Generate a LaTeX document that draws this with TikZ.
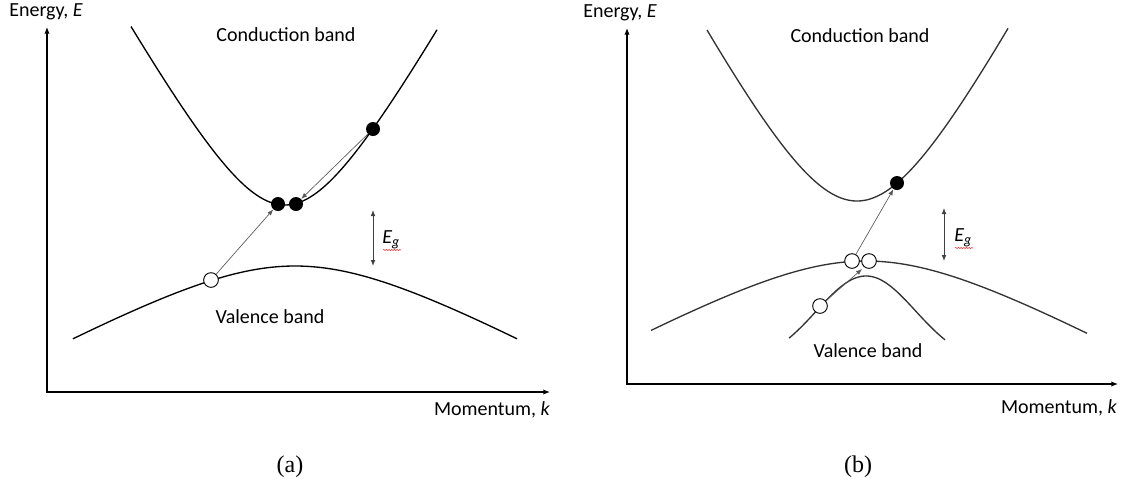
\documentclass[tikz,border=0pt]{standalone}
\usepackage{fontspec}
\setmainfont{Carlito}
\newfontfamily\capfont{Liberation Serif}
\usetikzlibrary{arrows.meta,decorations.pathmorphing}
\begin{document}
\begin{tikzpicture}[x=0.75pt,y=-0.75pt,
  lbl/.style={font=\fontsize{15}{17}\selectfont, inner sep=0pt},
  captext/.style={font=\capfont\fontsize{18}{20}\selectfont, inner sep=0pt},
  axisline/.style={line width=0.9pt},
  band/.style={line width=1pt, draw=black},
  bandb/.style={line width=1pt, draw=black!80},
  elec/.style={circle, fill=black, minimum size=10.5pt, inner sep=0pt},
  hole/.style={circle, draw=black, fill=white, line width=0.7pt, minimum size=11pt, inner sep=0pt},
  trans/.style={draw=black!65, line width=0.5pt, -{Latex[length=4.5pt,width=3.5pt]}},
  gaparrow/.style={line width=0.6pt, draw=black!75, {Latex[length=4.5pt,width=3.5pt]}-{Latex[length=4.5pt,width=3.5pt]}},
  squig/.style={draw=red!80, line width=0.4pt, decorate, decoration={snake, amplitude=0.5pt, segment length=2pt}}
]
\useasboundingbox (0,0) rectangle (1126,501);

% ---------------- panel (a) ----------------
\coordinate (ya) at (47,27);
\coordinate (oa) at (47,392);
\coordinate (xa) at (550,392);
\draw[axisline, {Latex[length=5pt,width=4pt]}-{Latex[length=5pt,width=4pt]}] (ya) -- (oa) -- (xa);

\draw[band] plot[domain=131:437, samples=120, smooth] (\x, {205 - 126*(sqrt(1+((\x-285)/70)^2)-1)});
\draw[band] plot[domain=73:517, samples=120, smooth] (\x, {266 + 66*(sqrt(1+((\x-295)/120)^2)-1)});

\node[elec] (e1a) at (278,204) {};
\node[elec] (e2a) at (296,204) {};
\node[elec] (e3a) at (373,129) {};
\node[hole] (h1a) at (211,280) {};

\draw[trans] (h1a) -- (e1a);
\draw[trans] (e3a) -- (e2a);

\coordinate (gta) at (373,210);
\coordinate (gba) at (373,266);
\draw[gaparrow] (gta) -- (gba);
\node[lbl, anchor=west] (ega) at (382,240) {\textit{E}\textsubscript{\textit{g}}};
\coordinate (sqa1) at (383,250);
\coordinate (sqa2) at (401,250);
\draw[squig] (sqa1) -- (sqa2);

\node[lbl] (ea) at (46,12) {Energy, \textit{E}};
\node[lbl] (ka) at (492,410) {Momentum, \textit{k}};
\node[lbl] (cba) at (286,35) {Conduction band};
\node[lbl] (vba) at (270,317) {Valence band};
\node[captext] (capa) at (290,467) {(a)};

% ---------------- panel (b) ----------------
\coordinate (yb) at (627,28);
\coordinate (ob) at (627,384);
\coordinate (xb) at (1118,384);
\draw[axisline, {Latex[length=5pt,width=4pt]}-{Latex[length=5pt,width=4pt]}] (yb) -- (ob) -- (xb);

\draw[bandb] plot[domain=707:1008, samples=120, smooth] (\x, {201 - 152*(sqrt(1+((\x-857)/80)^2)-1)});
\draw[bandb] plot[domain=651:1087, samples=120, smooth] (\x, {261 + 66*(sqrt(1+((\x-866)/120)^2)-1)});
\draw[bandb] plot[domain=789:945, samples=100, smooth] (\x, {276 + 88.6*(1-exp(-((\x-866)/70)^2))});

\node[elec] (e1b) at (897,183) {};
\node[hole] (h1b) at (852,261) {};
\node[hole] (h2b) at (869,261) {};
\node[hole] (h3b) at (820,306) {};
\coordinate (tipb) at (862,269);

\draw[trans] (h1b) -- (e1b);
\draw[trans] (h3b) -- (tipb);

\coordinate (gtb) at (944,208);
\coordinate (gbb) at (944,261);
\draw[gaparrow] (gtb) -- (gbb);
\node[lbl, anchor=west] (egb) at (954,238) {\textit{E}\textsubscript{\textit{g}}};
\coordinate (sqb1) at (955,248);
\coordinate (sqb2) at (973,248);
\draw[squig] (sqb1) -- (sqb2);

\node[lbl] (eb) at (620,13) {Energy, \textit{E}};
\node[lbl] (kb) at (1059,408) {Momentum, \textit{k}};
\node[lbl] (cbb) at (860,36) {Conduction band};
\node[lbl] (vbb) at (868,351) {Valence band};
\node[captext] (capb) at (858,467) {(b)};
\end{tikzpicture}
\end{document}
